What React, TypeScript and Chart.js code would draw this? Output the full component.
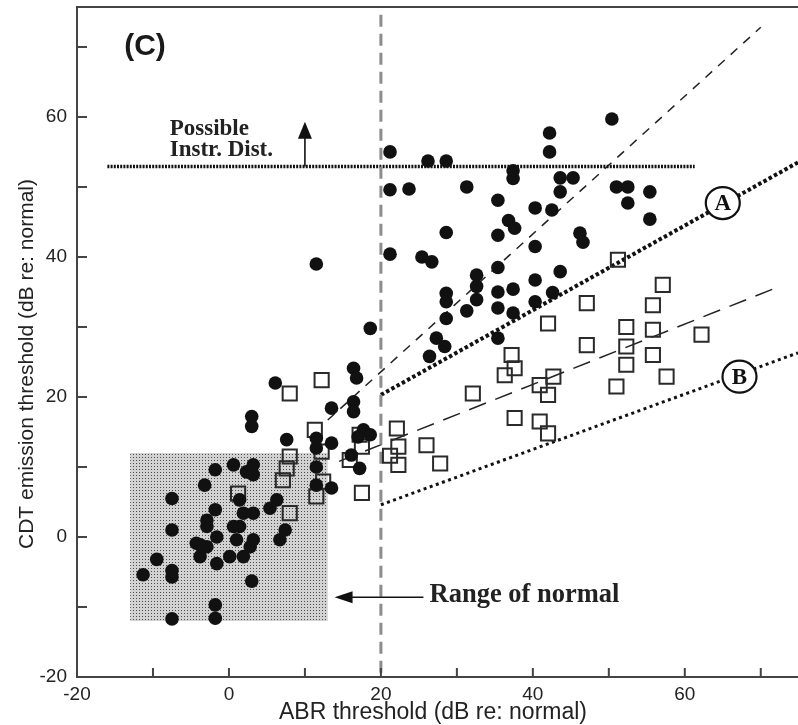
import React, { useEffect, useRef } from 'react';
import { Chart, registerables } from 'chart.js';

Chart.register(...registerables);

// ---------- axis ticks ----------
const xTickValues = [-20, -10, 0, 10, 20, 30, 40, 50, 60, 70];
const xTickLabels = [-20, 0, 20, 40, 60];
const yTickValues = [-20, -10, 0, 10, 20, 30, 40, 50, 60, 70];
const yTickLabels = [-20, 0, 20, 40, 60];
const xAxisTitle = 'ABR threshold (dB re: normal)';
const yAxisTitle = 'CDT emission threshold (dB re: normal)';

// ---------- data: filled circles [ABR, CDT] ----------
const circlePoints: [number, number][] = [
  [21.2, 55.0], [26.2, 53.7], [28.6, 53.7], [42.2, 57.7], [42.2, 55.0], [50.4, 59.7],
  [37.4, 52.3], [37.4, 51.2],
  [21.2, 49.6], [23.7, 49.7], [31.3, 50.0], [43.6, 51.3], [45.3, 51.3], [43.6, 49.3],
  [51.0, 50.0], [52.5, 50.0], [55.4, 49.3], [52.5, 47.7], [55.4, 45.4],
  [35.4, 48.1], [40.3, 47.0], [42.5, 46.7],
  [36.8, 45.2], [37.6, 44.1], [35.4, 43.1], [28.6, 43.5],
  [46.2, 43.4], [46.6, 42.1],
  [21.2, 40.4], [25.4, 40.0], [26.7, 39.3], [40.3, 41.5], [11.5, 39.0],
  [35.4, 38.5], [43.6, 37.9], [32.6, 37.4], [40.3, 36.7],
  [32.6, 35.8], [35.4, 35.0], [37.4, 35.4], [42.6, 34.9], [28.6, 34.8], [28.6, 33.6], [32.6, 33.9], [40.3, 33.6],
  [31.3, 32.3], [35.4, 32.7], [37.4, 32.0], [28.6, 31.2],
  [18.6, 29.8], [27.3, 28.4], [35.4, 28.4], [28.4, 27.2], [26.4, 25.8],
  [16.4, 24.1], [16.8, 22.7], [6.1, 22.0], [16.4, 19.3], [16.4, 17.9], [13.5, 18.4], [3.0, 17.2], [3.0, 15.8],
  [17.7, 15.3], [18.6, 14.6], [17.0, 14.3], [11.5, 14.1], [11.5, 12.7], [13.5, 13.4], [7.6, 13.9], [16.1, 11.7],
  [17.2, 9.8], [11.5, 10.0], [11.5, 7.4], [13.5, 7.0],
  [-1.8, 9.6], [0.6, 10.3], [2.3, 9.3], [3.2, 10.3], [3.2, 8.9], [-3.2, 7.4], [-7.5, 5.5], [-7.5, 1.0],
  [-1.8, 3.9], [1.4, 5.3], [1.9, 3.4], [3.2, 3.4], [0.6, 1.5], [1.4, 1.5], [-2.9, 1.5],
  [6.3, 5.3], [5.4, 4.1], [7.4, 1.0], [6.7, -0.4],
  [-4.3, -0.9], [-2.9, -1.4], [-3.8, -2.8], [-1.6, -3.8], [0.1, -2.8], [1.9, -2.8], [2.8, -1.4], [3.2, -0.4],
  [1.0, -0.4], [-1.6, 0.0], [-2.9, 2.4], [-3.8, -1.1],
  [-9.5, -3.2], [-11.3, -5.4], [-7.5, -4.8], [-7.5, -5.7], [3.0, -6.3], [-1.8, -9.7], [-1.8, -11.6], [-7.5, -11.7],
];

// ---------- data: open squares [ABR, CDT] ----------
const squarePoints: [number, number][] = [
  [12.2, 22.4], [8.0, 20.5], [11.3, 15.3], [12.2, 12.2], [17.2, 14.6], [17.5, 12.9], [15.9, 11.0],
  [22.1, 15.5], [22.3, 12.9], [21.2, 11.6], [22.3, 10.3], [17.5, 6.3], [8.0, 11.5], [7.6, 9.8], [7.1, 8.1],
  [12.4, 7.9], [11.5, 5.8], [1.2, 6.2], [8.0, 3.4],
  [51.2, 39.6], [57.1, 36.0], [55.8, 33.1], [47.1, 33.4], [42.0, 30.5], [52.3, 30.0], [55.8, 29.6],
  [47.1, 27.4], [52.3, 27.2], [55.8, 26.0], [52.3, 24.6], [62.2, 28.9], [57.6, 22.9], [51.0, 21.5],
  [37.2, 26.0], [37.6, 24.1], [36.3, 23.1], [42.7, 22.9], [40.9, 21.7], [42.0, 20.3], [32.1, 20.5],
  [37.6, 17.0], [40.9, 16.5], [42.0, 14.8], [26.0, 13.1], [27.8, 10.5],
];

// ---------- reference lines [x, y] end points ----------
const steepTrend: [number, number][] = [[13, 16.7], [70, 72.8]];
const trendA: [number, number][] = [[20, 20.3], [74.9, 53.5]];
const trendB: [number, number][] = [[20, 4.6], [74.9, 26.3]];
const squareTrend: [number, number][] = [[14.5, 10.8], [72.5, 35.8]];
const distortionFloor: [number, number][] = [[-16, 52.9], [61.3, 52.9]];
const abrCutoff: [number, number][] = [[20, 74.6], [20, -20]];

// ---------- annotations ----------
const normalRangeX = [-13, 13];
const normalRangeY = [-12, 12];
const instrArrow = { x: 10, from: 52.9, to: 59.3 };
const normalArrow = { y: -8.6, from: 25.6, to: 13.9 };
const circledA = { x: 65.0, y: 47.7, text: 'A' };
const circledB = { x: 67.2, y: 22.9, text: 'B' };
const panelLabel = { x: -11.05, y: 70, text: '(C)' };
const instrLabel = { x: -7.8, y1: 57.4, y2: 54.4, line1: 'Possible', line2: 'Instr. Dist.' };
const normalLabel = { x: 26.4, y: -8.3, text: 'Range of normal' };

const toXY = (arr: [number, number][]) => arr.map(([x, y]) => ({ x, y }));

function lineDataset(pts: [number, number][], color: string, width: number, dash: number[]) {
  return {
    data: toXY(pts),
    showLine: true,
    borderColor: color,
    borderWidth: width,
    borderDash: dash,
    pointRadius: 0,
    pointHoverRadius: 0,
    fill: false,
    order: 2,
  };
}

function makePattern(): CanvasPattern | string {
  const c = document.createElement('canvas');
  c.width = 3;
  c.height = 3;
  const g = c.getContext('2d');
  if (!g) return '#c8c8c8';
  g.fillStyle = '#d2d2d2';
  g.fillRect(0, 0, 3, 3);
  g.fillStyle = '#4a4a4a';
  g.fillRect(1, 1, 1, 1);
  const p = g.createPattern(c, 'repeat');
  return p || '#c8c8c8';
}

const overlayPlugin = {
  id: 'overlay',
  beforeDatasetsDraw(chart: any) {
    const { ctx, scales } = chart;
    const x = scales.x, y = scales.y;
    const x0 = x.getPixelForValue(normalRangeX[0]);
    const x1 = x.getPixelForValue(normalRangeX[1]);
    const y0 = y.getPixelForValue(normalRangeY[1]);
    const y1 = y.getPixelForValue(normalRangeY[0]);
    ctx.save();
    ctx.fillStyle = makePattern();
    ctx.fillRect(x0, y0, x1 - x0, y1 - y0);
    ctx.restore();
  },
  afterDatasetsDraw(chart: any) {
    const { ctx, chartArea, scales } = chart;
    const x = scales.x, y = scales.y;
    const { left, right, top, bottom } = chartArea;
    ctx.save();

    // frame (left, bottom, top)
    ctx.strokeStyle = '#444';
    ctx.lineWidth = 2;
    ctx.beginPath();
    ctx.moveTo(left, top);
    ctx.lineTo(right + 2, top);
    ctx.moveTo(left, top - 1);
    ctx.lineTo(left, bottom);
    ctx.lineTo(right + 2, bottom);
    ctx.stroke();

    // inward ticks
    ctx.beginPath();
    xTickValues.forEach((v) => {
      const px = x.getPixelForValue(v);
      ctx.moveTo(px, bottom);
      ctx.lineTo(px, bottom - 9);
    });
    yTickValues.forEach((v) => {
      const py = y.getPixelForValue(v);
      ctx.moveTo(left, py);
      ctx.lineTo(left + 10, py);
    });
    ctx.stroke();

    // arrow: possible instrument distortion
    ctx.strokeStyle = '#111';
    ctx.fillStyle = '#111';
    ctx.lineWidth = 1.6;
    const ax = x.getPixelForValue(instrArrow.x);
    const ay0 = y.getPixelForValue(instrArrow.from);
    const ay1 = y.getPixelForValue(instrArrow.to);
    ctx.beginPath();
    ctx.moveTo(ax, ay0);
    ctx.lineTo(ax, ay1 + 14);
    ctx.stroke();
    ctx.beginPath();
    ctx.moveTo(ax, ay1);
    ctx.lineTo(ax - 7, ay1 + 17);
    ctx.lineTo(ax + 7, ay1 + 17);
    ctx.closePath();
    ctx.fill();

    // arrow: range of normal
    const ny = y.getPixelForValue(normalArrow.y);
    const nx0 = x.getPixelForValue(normalArrow.from);
    const nx1 = x.getPixelForValue(normalArrow.to);
    ctx.beginPath();
    ctx.moveTo(nx0, ny);
    ctx.lineTo(nx1 + 14, ny);
    ctx.stroke();
    ctx.beginPath();
    ctx.moveTo(nx1, ny);
    ctx.lineTo(nx1 + 18, ny - 6);
    ctx.lineTo(nx1 + 18, ny + 6);
    ctx.closePath();
    ctx.fill();

    // circled letters
    [circledA, circledB].forEach((c) => {
      const cx = x.getPixelForValue(c.x);
      const cy = y.getPixelForValue(c.y);
      ctx.beginPath();
      ctx.ellipse(cx, cy, 17, 16, 0, 0, Math.PI * 2);
      ctx.fillStyle = '#fff';
      ctx.fill();
      ctx.lineWidth = 2.2;
      ctx.strokeStyle = '#111';
      ctx.stroke();
      ctx.fillStyle = '#111';
      ctx.font = 'bold 23px "Liberation Serif", serif';
      ctx.textAlign = 'center';
      ctx.textBaseline = 'middle';
      ctx.fillText(c.text, cx, cy + 1);
    });

    // texts
    ctx.fillStyle = '#1a1a1a';
    ctx.font = 'bold 30px "Liberation Sans", Arial, sans-serif';
    ctx.textAlign = 'center';
    ctx.textBaseline = 'middle';
    ctx.fillText(panelLabel.text, x.getPixelForValue(panelLabel.x), y.getPixelForValue(panelLabel.y));

    ctx.font = 'bold 23px "Liberation Serif", serif';
    ctx.textAlign = 'left';
    ctx.textBaseline = 'alphabetic';
    ctx.fillStyle = '#222';
    ctx.fillText(instrLabel.line1, x.getPixelForValue(instrLabel.x), y.getPixelForValue(instrLabel.y1));
    ctx.fillText(instrLabel.line2, x.getPixelForValue(instrLabel.x), y.getPixelForValue(instrLabel.y2));

    ctx.font = 'bold 26.5px "Liberation Serif", serif';
    ctx.textBaseline = 'middle';
    ctx.fillText(normalLabel.text, x.getPixelForValue(normalLabel.x), y.getPixelForValue(normalLabel.y));

    // axis titles
    ctx.fillStyle = '#222';
    ctx.font = '23px "Liberation Sans", Arial, sans-serif';
    ctx.textAlign = 'center';
    ctx.textBaseline = 'middle';
    ctx.fillText(xAxisTitle, 433, 713);
    ctx.save();
    ctx.translate(27, 364);
    ctx.rotate(-Math.PI / 2);
    ctx.font = '21px "Liberation Sans", Arial, sans-serif';
    ctx.fillText(yAxisTitle, 0, 0);
    ctx.restore();

    ctx.restore();
  },
};

export default function App() {
  const canvasRef = useRef<HTMLCanvasElement | null>(null);

  useEffect(() => {
    const canvas = canvasRef.current;
    if (!canvas) return;
    const chart = new Chart(canvas, {
      type: 'scatter',
      data: {
        datasets: [
          {
            data: toXY(circlePoints),
            pointStyle: 'circle',
            pointRadius: 6.8,
            pointHoverRadius: 6.8,
            backgroundColor: '#111',
            borderWidth: 0,
            order: 0,
          } as any,
          {
            data: toXY(squarePoints),
            pointStyle: 'rect',
            pointRadius: 10,
            pointHoverRadius: 10,
            backgroundColor: 'rgba(0,0,0,0)',
            borderColor: '#2a2a2a',
            borderWidth: 2,
            order: 1,
          } as any,
          lineDataset(abrCutoff, '#8c8c8c', 3, [12, 7]) as any,
          lineDataset(distortionFloor, '#111', 3.5, [2, 1.2]) as any,
          lineDataset(steepTrend, '#222', 1.5, [9, 8]) as any,
          lineDataset(squareTrend, '#222', 1.5, [18, 10]) as any,
          lineDataset(trendA, '#111', 4, [3.5, 2.5]) as any,
          lineDataset(trendB, '#111', 3, [3, 3.5]) as any,
        ],
      },
      options: {
        animation: false,
        responsive: false,
        events: [],
        layout: { autoPadding: false, padding: { top: 7, left: 0, right: 0, bottom: 0 } },
        plugins: { legend: { display: false }, tooltip: { enabled: false } },
        scales: {
          x: {
            type: 'linear',
            min: -20,
            max: 74.9,
            grid: { display: false, drawTicks: false },
            border: { display: false },
            afterBuildTicks: (s: any) => {
              s.ticks = xTickValues.map((v) => ({ value: v }));
            },
            afterFit: (s: any) => {
              s.height = 48;
              s.paddingLeft = 0;
              s.paddingRight = 0;
            },
            ticks: {
              padding: 6,
              color: '#222',
              autoSkip: false,
              maxRotation: 0,
              font: { family: '"Liberation Sans", Arial, sans-serif', size: 19 },
              callback: (v: any) => (xTickLabels.includes(Number(v)) ? String(v) : ''),
            },
          },
          y: {
            type: 'linear',
            min: -20,
            max: 75.7,
            grid: { display: false, drawTicks: false },
            border: { display: false },
            afterBuildTicks: (s: any) => {
              s.ticks = yTickValues.map((v) => ({ value: v }));
            },
            afterFit: (s: any) => {
              s.width = 77;
              s.paddingTop = 0;
              s.paddingBottom = 0;
            },
            ticks: {
              padding: 10,
              color: '#222',
              autoSkip: false,
              font: { family: '"Liberation Sans", Arial, sans-serif', size: 19 },
              callback: (v: any) => (yTickLabels.includes(Number(v)) ? String(v) : ''),
            },
          },
        },
      } as any,
      plugins: [overlayPlugin],
    });
    return () => chart.destroy();
  }, []);

  return (
    <div style={{ position: 'fixed', left: 0, top: 0, width: 798, height: 725, background: '#fff' }}>
      <canvas ref={canvasRef} width={798} height={725} style={{ display: 'block' }} />
    </div>
  );
}
